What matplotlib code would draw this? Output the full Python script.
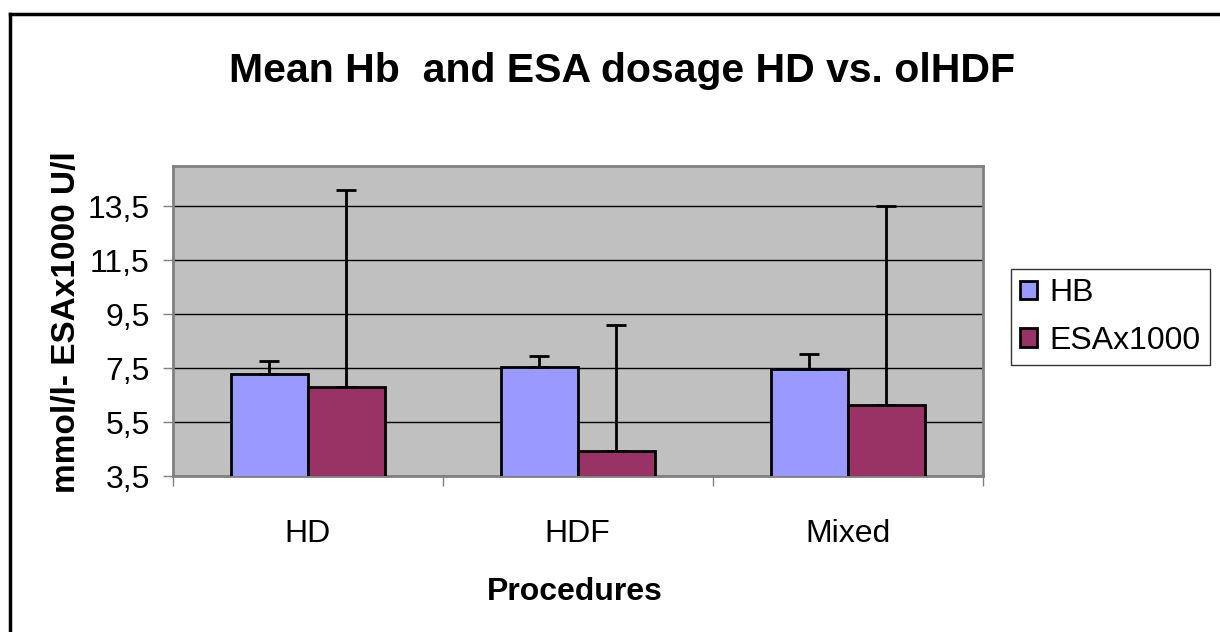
import matplotlib
matplotlib.use("Agg")
import matplotlib.pyplot as plt
import numpy as np
from matplotlib.lines import Line2D

plt.rcParams['font.family'] = ['Liberation Sans', 'DejaVu Sans']

categories = ["HD", "HDF", "Mixed"]
series_names = ["HB", "ESAx1000"]
hb_mean = [7.28, 7.56, 7.48]
hb_err = [0.48, 0.38, 0.56]
esa_mean = [6.81, 4.44, 6.14]
esa_err = [7.29, 4.65, 7.36]
ytick_vals = [3.5, 5.5, 7.5, 9.5, 11.5, 13.5]
ytick_labels = ["3,5", "5,5", "7,5", "9,5", "11,5", "13,5"]

W, H = 1220, 632
L, R, T, B = 172.7, 982.7, 166, 476
fig = plt.figure(figsize=(W / 100, H / 100), dpi=100)
ax = fig.add_axes([L / W, 1 - B / H, (R - L) / W, (B - T) / H])
ax.set_facecolor("#C0C0C0")

FS = 23

x = np.arange(len(categories))
bw = 1 / 3.5
ax.bar(x - bw / 2, hb_mean, bw, color="#9999FF", edgecolor="black", linewidth=2,
       label=series_names[0], zorder=3,
       yerr=[np.zeros(len(hb_err)), hb_err], capsize=7.5,
       error_kw=dict(elinewidth=2, capthick=2, ecolor="black", zorder=4))
ax.bar(x + bw / 2, esa_mean, bw, color="#993366", edgecolor="black", linewidth=2,
       label=series_names[1], zorder=3,
       yerr=[np.zeros(len(esa_err)), esa_err], capsize=7.5,
       error_kw=dict(elinewidth=2, capthick=2, ecolor="black", zorder=4))

ax.set_xlim(-0.5, len(categories) - 0.5)
ax.set_ylim(3.5, 15.0)
ax.set_yticks(ytick_vals)
ax.set_yticklabels(ytick_labels, fontsize=FS)
ax.yaxis.grid(True, color="black", linewidth=1, zorder=1)
ax.set_axisbelow(True)

ax.set_xticks(np.arange(-0.5, len(categories), 1.0))
ax.set_xticklabels([])
ax.set_xticks(x, minor=True)
ax.set_xticklabels(categories, minor=True, fontsize=FS)
ax.tick_params(axis="x", which="minor", length=0, pad=31)
ax.tick_params(axis="x", which="major", length=7.5, width=1, color="#808080", direction="out")
ax.tick_params(axis="y", length=7.5, width=1, color="#808080", direction="out", pad=9)

for s in ax.spines.values():
    s.set_color("#808080")
    s.set_linewidth(2)

ax.set_xlabel("Procedures", fontsize=FS, fontweight="bold")
ax.xaxis.set_label_coords((575 - L) / (R - L), -(577 - B) / (B - T))
ax.set_ylabel("mmol/l- ESAx1000 U/l", fontsize=24, fontweight="bold")
ax.yaxis.set_label_coords(-(L - 82) / (R - L), (B - 322.5) / (B - T))

fig.text(622 / W, 1 - 71 / H, "Mean Hb  and ESA dosage HD vs. olHDF",
         ha="center", va="center", fontsize=29.5, fontweight="bold")

leg = ax.legend(loc="center left", bbox_to_anchor=(1010.7 / W, 1 - 317 / H),
                bbox_transform=fig.transFigure, fontsize=FS, frameon=True,
                fancybox=False, edgecolor="black", handlelength=0.53, handleheight=0.53,
                handletextpad=0.38, labelspacing=0.54, borderpad=0.3, borderaxespad=0)
leg.get_frame().set_linewidth(1)

# outer chart border (top and left visible)
fig.add_artist(Line2D([10 / W, 1.0], [1 - 14 / H, 1 - 14 / H], color="black", linewidth=2.5,
                      transform=fig.transFigure))
fig.add_artist(Line2D([10 / W, 10 / W], [1 - 14 / H, 0.0], color="black", linewidth=2.5,
                      transform=fig.transFigure))

fig.savefig("out.png", dpi=100, facecolor="white")
